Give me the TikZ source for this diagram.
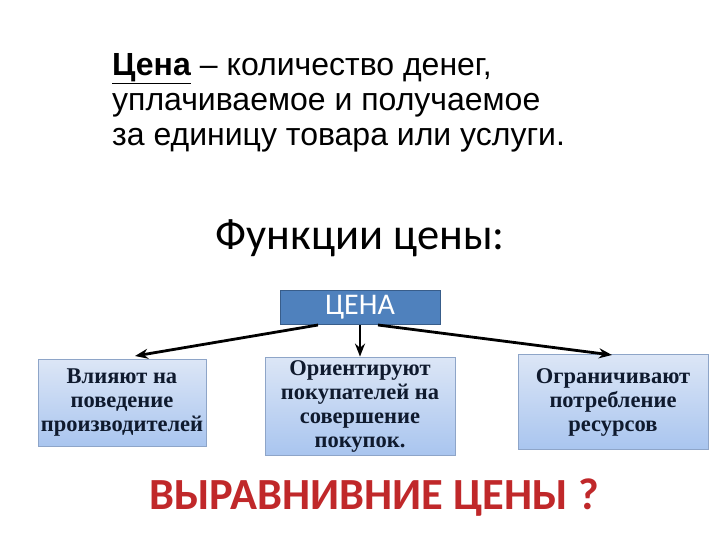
\documentclass[tikz,border=0pt]{standalone}
\usepackage{fontspec}
\setmainfont{Liberation Sans}
\newfontfamily\carl{Carlito}
\newfontfamily\tnr{Liberation Serif}
\usetikzlibrary{arrows.meta}
\definecolor{boxblue}{HTML}{4F81BD}
\definecolor{boxedge}{HTML}{385D8A}
\definecolor{lighttop}{HTML}{DCE6F6}
\definecolor{lightbot}{HTML}{A9C5EF}
\definecolor{lightedge}{HTML}{8EA5C8}
\definecolor{navytext}{HTML}{0F1A2E}
\definecolor{redtext}{HTML}{C0282A}
\tikzset{
  fbox/.style={draw=lightedge, line width=0.8pt, top color=lighttop, bottom color=lightbot,
    align=center, inner sep=1pt, font=\tnr\bfseries\fontsize{22.5}{24}\selectfont, text=navytext},
  conn/.style={-{Stealth[length=13pt,width=10pt]}, line width=2.8pt, black}
}
\begin{document}
\begin{tikzpicture}[x=1pt,y=-1pt]
\useasboundingbox (0,0) rectangle (720,540);
\node[anchor=north west, align=left, inner sep=0pt, font=\fontsize{32}{35}\selectfont] (def) at (112,53)
  {\underline{\textbf{Цена}} – количество денег,\\уплачиваемое и получаемое\\за единицу товара или услуги.};
\node[font=\carl\fontsize{44.5}{48}\selectfont] (title) at (360,238) {Функции цены:};
\node[draw=boxedge, line width=1pt, fill=boxblue, minimum width=160pt, minimum height=34pt,
  text=white, font=\carl\fontsize{30}{32}\selectfont, inner sep=0pt] (price) at (360,307) {ЦЕНА};
\node[fbox, minimum width=168pt, minimum height=87pt] (b1) at (122,403)
  {Влияют на\\поведение\\производителей};
\node[fbox, minimum width=190pt, minimum height=98pt] (b2) at (360,406)
  {Ориентируют\\покупателей на\\совершение\\покупок.};
\node[fbox, minimum width=190pt, minimum height=95pt] (b3) at (613,402)
  {Ограничивают\\потребление\\ресурсов};
\coordinate (s1) at (318,325);
\coordinate (s2) at (360,325);
\coordinate (s3) at (378,325);
\draw[conn] (s1) -- (135,356) coordinate (e1);
\draw[conn] (s2) -- (b2.north);
\draw[conn] (s3) -- (612,355) coordinate (e3);
\node[font=\carl\bfseries\fontsize{44.5}{50}\selectfont, text=redtext] (q) at (374,498) {ВЫРАВНИВНИЕ ЦЕНЫ ?};
\end{tikzpicture}
\end{document}
